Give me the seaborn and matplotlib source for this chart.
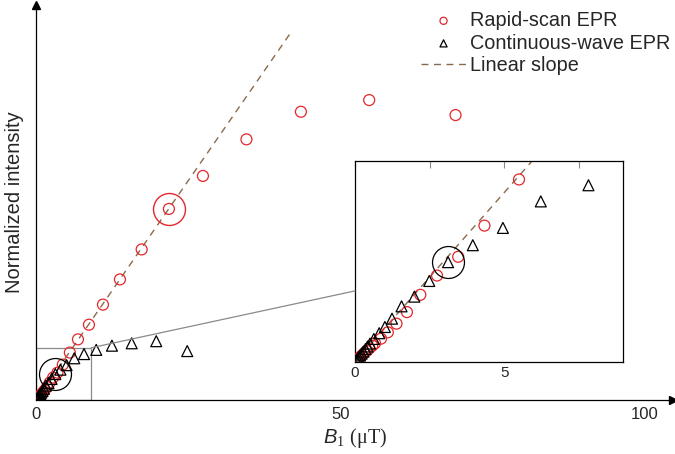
import matplotlib
matplotlib.use("Agg")
import matplotlib.pyplot as plt
import seaborn as sns
import pandas as pd
from matplotlib.patches import Rectangle, ConnectionPatch

# Rapid-scan EPR: B1 (uT) and normalized intensity
rs_b1 = [0.08, 0.15, 0.22, 0.30, 0.39, 0.48, 0.58, 0.67, 0.87, 1.10, 1.39, 1.74,
         2.19, 2.75, 3.46, 4.34, 5.50, 6.83, 8.64, 10.94, 13.73, 17.30, 21.78,
         27.37, 34.52, 43.47, 54.69, 68.88]
rs_int = [0.0019, 0.0036, 0.0053, 0.0072, 0.0094, 0.0115, 0.0139, 0.0160, 0.0200,
          0.0255, 0.0330, 0.0430, 0.0580, 0.0747, 0.0910, 0.1180, 0.1580, 0.2020,
          0.2510, 0.3180, 0.4020, 0.5020, 0.6370, 0.7470, 0.8690, 0.9610, 1.0000,
          0.9500]

# Continuous-wave EPR
cw_b1 = [0.04, 0.08, 0.12, 0.17, 0.22, 0.28, 0.35, 0.42, 0.50, 0.63, 0.81, 1.00,
         1.24, 1.56, 1.99, 2.49, 3.12, 3.95, 4.96, 6.23, 7.83, 9.84, 12.42, 15.66,
         19.70, 24.79]
cw_int = [0.0013, 0.0026, 0.0038, 0.0054, 0.0070, 0.0088, 0.0110, 0.0132, 0.0157,
          0.0197, 0.0247, 0.0301, 0.0373, 0.0480, 0.0564, 0.0700, 0.0863, 0.1010,
          0.1160, 0.1390, 0.1530, 0.1670, 0.1810, 0.1890, 0.1960, 0.1630]

# linear slope (two end points)
slope_b1 = [0.0, 41.7]
slope_int = [0.0, 1.222]

# highlighted points
rs_mark = (21.78, 0.637)
cw_mark = (3.12, 0.0863)

# zoom window
zoom_b1 = (0, 9)
zoom_int = (0, 0.174)

RED = "#e3262b"
BROWN = "#8a6a4c"
GREY = "#8a8a8a"

sns.set_style("white")
plt.rcParams["font.family"] = ["Liberation Sans", "DejaVu Sans"]
plt.rcParams["mathtext.fontset"] = "custom"
plt.rcParams["mathtext.it"] = "Liberation Sans:italic"
plt.rcParams["mathtext.rm"] = "Liberation Serif"

rs = pd.DataFrame({"B1": rs_b1, "intensity": rs_int})
cw = pd.DataFrame({"B1": cw_b1, "intensity": cw_int})
slope = pd.DataFrame({"B1": slope_b1, "intensity": slope_int})


def draw_data(ax, legend):
    sns.scatterplot(data=rs, x="B1", y="intensity", marker="o", s=62,
                    facecolors="none", edgecolor=RED, linewidth=0.9, ax=ax,
                    label="Rapid-scan EPR" if legend else None, legend=False, zorder=3)
    sns.scatterplot(data=cw, x="B1", y="intensity", marker="^", s=62,
                    facecolors="none", edgecolor="black", linewidth=0.9, ax=ax,
                    label="Continuous-wave EPR" if legend else None, legend=False, zorder=3)
    sns.lineplot(data=slope, x="B1", y="intensity", color=BROWN, linestyle=(0, (5, 4)),
                 linewidth=1.0, ax=ax, label="Linear slope" if legend else None,
                 legend=False, zorder=2)


fig = plt.figure(figsize=(6.75, 4.54), dpi=100)

# main axes
ax = fig.add_axes([0.0539, 0.119, 0.943, 0.870])
draw_data(ax, True)
ax.plot(*rs_mark, marker="o", ms=23, mfc="none", mec=RED, mew=1.0, zorder=4)
ax.plot(*cw_mark, marker="o", ms=23, mfc="none", mec="black", mew=0.9, zorder=4)
ax.add_patch(Rectangle((zoom_b1[0], zoom_int[0]), zoom_b1[1] - zoom_b1[0],
                       zoom_int[1] - zoom_int[0], fill=False, edgecolor=GREY, lw=0.9))
ax.set_xlim(0, 104.6)
ax.set_ylim(0, 1.317)
ax.set_xticks([0, 25, 50, 75, 100])
ax.set_xticklabels(["0", "", "50", "", "100"])
ax.set_yticks([])
ax.tick_params(axis="x", direction="inout", length=8, width=0.6, color=GREY,
               labelsize=12, pad=1)
for side in ["top", "right"]:
    ax.spines[side].set_visible(False)
for side in ["left", "bottom"]:
    ax.spines[side].set_color("black")
    ax.spines[side].set_linewidth(0.9)
ax.plot(1, 0, ">k", ms=6, transform=ax.get_yaxis_transform(), clip_on=False)
ax.plot(0, 1, "^k", ms=6, transform=ax.get_xaxis_transform(), clip_on=False)
ax.set_xlabel(r"$B_1$ $(\mathrm{\mu T})$", fontsize=14.5, labelpad=3)
ax.set_ylabel("Normalized intensity", fontsize=14.5, labelpad=9)

leg = ax.legend(loc="upper left", bbox_to_anchor=(0.624, 1.0 - 11 / 454),
                bbox_transform=fig.transFigure, frameon=False, fontsize=14.3,
                borderpad=0, borderaxespad=0, handlelength=2.25, handletextpad=0.2,
                labelspacing=0.18, markerscale=0.65)

# inset
axin = fig.add_axes([0.526, 0.2033, 0.3975, 0.442])
draw_data(axin, False)
axin.plot(*cw_mark, marker="o", ms=23, mfc="none", mec="black", mew=0.9, zorder=4)
axin.set_xlim(*zoom_b1)
axin.set_ylim(*zoom_int)
axin.set_xticks([0, 2.5, 5, 7.5])
axin.set_xticklabels(["0", "", "5", ""])
axin.set_yticks([])
axin.set_xlabel("")
axin.set_ylabel("")
axin.tick_params(axis="x", direction="in", length=5, width=0.8, color=GREY,
                 labelsize=11, pad=3, top=True)
for sp in axin.spines.values():
    sp.set_color("black")
    sp.set_linewidth(0.9)

con = ConnectionPatch(xyA=(zoom_b1[1], zoom_int[1]), coordsA=ax.transData,
                      xyB=(0, 0.0614), coordsB=axin.transData,
                      color=GREY, lw=0.9)
fig.add_artist(con)

fig.savefig("out.png", dpi=100)
